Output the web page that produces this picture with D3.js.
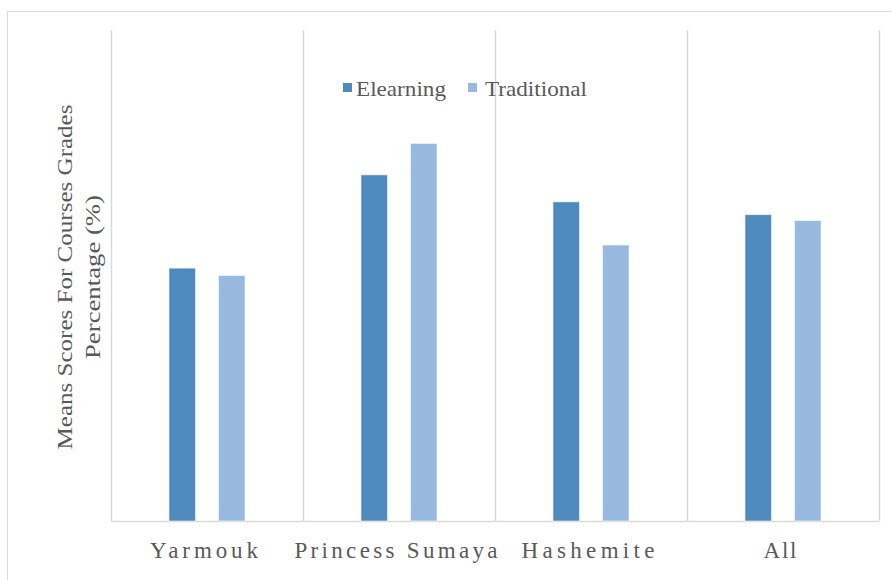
<!DOCTYPE html>
<html>
<head>
<meta charset="utf-8">
<script src="https://cdn.jsdelivr.net/npm/d3@7"></script>
<style>
  html, body { margin: 0; padding: 0; background: #fff; }
  svg { display: block; }
  text { font-family: "Liberation Serif", "Times New Roman", serif; fill: #595959; }
</style>
</head>
<body>
<svg id="chart" width="892" height="580"></svg>
<script>
// ---- data ----
const categories = ["Yarmouk", "Princess Sumaya", "Hashemite", "All"];
const seriesNames = ["Elearning", "Traditional"];
const elearning = [51.5, 70.5, 65.0, 62.4];
const traditional = [50.0, 76.9, 56.2, 61.2];
const yTitleLines = ["Means Scores For Courses Grades", "Percentage (%)"];

// ---- layout ----
const svg = d3.select("#chart");
const plot = { left: 111, right: 879, top: 30, bottom: 521 };
const colors = { Elearning: "#4F8ABE", Traditional: "#97B9E0" };
const labelWidths = { "Yarmouk": 108, "Princess Sumaya": 203, "Hashemite": 133, "All": 33 };

// outer frame
svg.append("rect")
  .attr("x", 7.5).attr("y", 11.5).attr("width", 900).attr("height", 600)
  .attr("fill", "none").attr("stroke", "#d9d9d9").attr("stroke-width", 1);

const x0 = d3.scaleBand().domain(categories).range([plot.left, plot.right]).paddingInner(0).paddingOuter(0);
const bw = x0.bandwidth();
const x1 = d3.scaleBand().domain(seriesNames).range([0.302 * bw, 0.698 * bw]).paddingInner(0.465).paddingOuter(0);
const y = d3.scaleLinear().domain([0, 100]).range([plot.bottom, plot.top]);

// vertical gridlines at category boundaries
const bounds = categories.map(c => x0(c)).concat([plot.right]);
svg.append("g").selectAll("line").data(bounds).join("line")
  .attr("x1", d => Math.round(d) + 0.5).attr("x2", d => Math.round(d) + 0.5)
  .attr("y1", plot.top).attr("y2", plot.bottom)
  .attr("stroke", "#d9d9d9").attr("stroke-width", 1.5);

// baseline
svg.append("line")
  .attr("x1", plot.left).attr("x2", plot.right)
  .attr("y1", plot.bottom + 0.5).attr("y2", plot.bottom + 0.5)
  .attr("stroke", "#d9d9d9").attr("stroke-width", 1.5);

// bars
const rows = categories.map((c, i) => ({ cat: c, Elearning: elearning[i], Traditional: traditional[i] }));
const groups = svg.append("g").selectAll("g").data(rows).join("g")
  .attr("transform", d => `translate(${x0(d.cat)},0)`);
groups.selectAll("rect")
  .data(d => seriesNames.map(s => ({ s, v: d[s] })))
  .join("rect")
  .attr("x", d => x1(d.s))
  .attr("width", x1.bandwidth())
  .attr("y", d => y(d.v))
  .attr("height", d => y(0) - y(d.v))
  .attr("fill", d => colors[d.s])
  .attr("stroke", "rgba(255,255,255,0.55)")
  .attr("stroke-width", 1);

// x labels
svg.append("g").selectAll("text").data(categories).join("text")
  .attr("x", d => x0(d) + bw / 2 - 3)
  .attr("y", 558)
  .attr("text-anchor", "middle")
  .attr("font-size", 23)
  .attr("textLength", d => labelWidths[d])
  .attr("lengthAdjust", "spacing")
  .text(d => d);

// y title
const yTitleX = [72, 100];
const yTitleLen = [345, 164];
yTitleLines.forEach((t, i) => {
  svg.append("text")
    .attr("transform", `translate(${yTitleX[i]},277) rotate(-90)`)
    .attr("text-anchor", "middle")
    .attr("font-size", 21)
    .attr("textLength", yTitleLen[i])
    .attr("lengthAdjust", "spacingAndGlyphs")
    .text(t);
});

// legend
const legendItems = [
  { name: "Elearning", sx: 343, tx: 356, len: 90 },
  { name: "Traditional", sx: 468, tx: 485, len: 102 }
];
const lg = svg.append("g");
legendItems.forEach(it => {
  lg.append("rect").attr("x", it.sx).attr("y", 83).attr("width", 9).attr("height", 9)
    .attr("fill", colors[it.name]);
  lg.append("text").attr("x", it.tx).attr("y", 96).attr("font-size", 22)
    .attr("textLength", it.len).attr("lengthAdjust", "spacingAndGlyphs")
    .text(it.name);
});
</script>
</body>
</html>
